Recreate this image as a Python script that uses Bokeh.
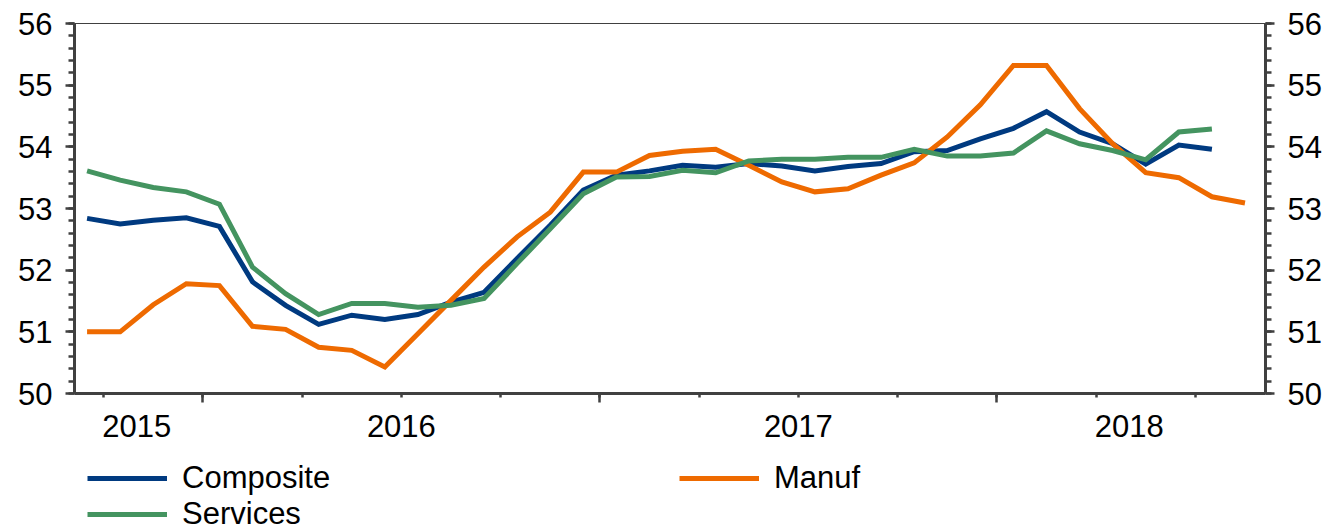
from bokeh.plotting import figure
from bokeh.layouts import column
from bokeh.models import (Range1d, LinearAxis, FixedTicker, SingleIntervalTicker,
                          Legend, LegendItem, CustomLabelingPolicy)
from bokeh.embed import file_html
from bokeh.resources import INLINE

# ---- data (monthly index, 0 = first month shown) ----
manuf = [51.0, 51.0, 51.44, 51.78, 51.75, 51.09, 51.04, 50.75, 50.70, 50.43,
         50.97, 51.51, 52.05, 52.54, 52.94, 53.59, 53.59, 53.86, 53.93, 53.96,
         53.70, 53.43, 53.27, 53.32, 53.54, 53.74, 54.16, 54.68, 55.32, 55.32,
         54.62, 54.05, 53.58, 53.50, 53.19, 53.09]
composite = [52.84, 52.75, 52.81, 52.85, 52.71, 51.81, 51.43, 51.12, 51.27, 51.20,
             51.28, 51.48, 51.64, 52.19, 52.73, 53.30, 53.54, 53.61, 53.70, 53.67,
             53.73, 53.69, 53.61, 53.68, 53.73, 53.92, 53.94, 54.13, 54.30, 54.57,
             54.24, 54.05, 53.72, 54.03, 53.96]
services = [53.61, 53.46, 53.34, 53.27, 53.07, 52.05, 51.62, 51.28, 51.46, 51.46,
            51.40, 51.43, 51.54, 52.11, 52.67, 53.24, 53.51, 53.52, 53.62, 53.58,
            53.77, 53.80, 53.80, 53.83, 53.83, 53.96, 53.85, 53.85, 53.90, 54.26,
            54.05, 53.94, 53.79, 54.24, 54.29]
months_manuf = list(range(len(manuf)))
months_comp = list(range(len(composite)))
months_serv = list(range(len(services)))

series_names = ["Composite", "Services", "Manuf"]
year_labels = ["2015", "2016", "2017", "2018"]
year_label_pos = [1.5, 9.5, 21.5, 31.5]
quarter_ticks = [0.5, 3.5, 6.5, 9.5, 12.5, 15.5, 18.5, 21.5, 24.5, 27.5, 30.5, 33.5]
year_ticks = [3.5, 15.5, 27.5]

BLUE = "#003A80"
ORANGE = "#EE6A00"
GREEN = "#449460"
AX = "#404040"
FONT = "Liberation Sans"
FS = "31px"

# ================= main chart =================
p = figure(frame_width=1191, frame_height=370,
           x_range=Range1d(-0.38, 35.62), y_range=Range1d(50, 56),
           output_backend="svg", toolbar_location=None,
           min_border_left=74, min_border_right=65,
           min_border_top=23, min_border_bottom=67)
p.background_fill_color = "white"
p.border_fill_color = "white"
p.outline_line_color = AX
p.outline_line_width = 1
p.xgrid.visible = False
p.ygrid.visible = False

p.line(months_comp, composite, line_color=BLUE, line_width=5, line_join="miter")
p.line(months_manuf, manuf, line_color=ORANGE, line_width=5, line_join="miter")
p.line(months_serv, services, line_color=GREEN, line_width=5, line_join="miter")

# ---- y axes ----
def style_y(ax):
    ax.ticker = SingleIntervalTicker(interval=1, num_minor_ticks=5)
    ax.axis_line_color = AX
    ax.axis_line_width = 3
    ax.major_tick_line_color = AX
    ax.major_tick_line_width = 2.5
    ax.minor_tick_line_color = AX
    ax.minor_tick_line_width = 2.5
    ax.major_tick_in = 0
    ax.major_tick_out = 9
    ax.minor_tick_in = 0
    ax.minor_tick_out = 6
    ax.major_label_text_font = FONT
    ax.major_label_text_font_size = FS
    ax.major_label_text_color = "black"
    ax.major_label_standoff = 13

style_y(p.yaxis[0])
ry = LinearAxis()
style_y(ry)
p.add_layout(ry, "right")

# ---- x axis: line + quarterly ticks (no labels) ----
xa = p.xaxis[0]
xa.ticker = FixedTicker(ticks=year_ticks, minor_ticks=quarter_ticks)
xa.axis_line_color = AX
xa.axis_line_width = 3
xa.major_tick_line_color = AX
xa.major_tick_line_width = 2.5
xa.minor_tick_line_color = AX
xa.minor_tick_line_width = 2.5
xa.major_tick_in = 0
xa.major_tick_out = 9
xa.minor_tick_in = 0
xa.minor_tick_out = 4
xa.major_label_text_font_size = "1px"
xa.major_label_standoff = 0
xa.major_label_policy = CustomLabelingPolicy(
    code="for (const i of Array.from(indices)) { indices.unset(i) }\nreturn indices")

# ---- x axis: year labels ----
xb = LinearAxis(ticker=FixedTicker(ticks=year_label_pos, minor_ticks=[]))
xb.major_label_overrides = {pos: lab for pos, lab in zip(year_label_pos, year_labels)}
xb.axis_line_color = None
xb.major_tick_line_color = None
xb.minor_tick_line_color = None
xb.major_tick_out = 0
xb.major_tick_in = 0
xb.minor_tick_out = 0
xb.minor_tick_in = 0
xb.major_label_text_font = FONT
xb.major_label_text_font_size = FS
xb.major_label_text_color = "black"
xb.major_label_standoff = 8
p.add_layout(xb, "below")

# ================= legend strip =================
# same series, drawn outside the strip's visible range: only the legend shows
q = figure(width=1330, height=69, x_range=Range1d(-0.38, 35.62), y_range=Range1d(0, 1),
           x_axis_type=None, y_axis_type=None,
           output_backend="svg", toolbar_location=None,
           min_border=0, min_border_left=0, min_border_right=0,
           min_border_top=0, min_border_bottom=0)
q.outline_line_color = None
q.background_fill_color = "white"
q.border_fill_color = "white"
lc = q.line(months_comp, composite, line_color=BLUE, line_width=5)
ls = q.line(months_serv, services, line_color=GREEN, line_width=5)
lm = q.line(months_manuf, manuf, line_color=ORANGE, line_width=5)

legend = Legend(items=[LegendItem(label=series_names[0], renderers=[lc]),
                       LegendItem(label=series_names[1], renderers=[ls]),
                       LegendItem(label=series_names[2], renderers=[lm])],
                orientation="vertical", nrows=2,
                location=(13, -3),
                glyph_width=80, glyph_height=36, label_height=36, label_width=497,
                label_standoff=15, padding=0, margin=0, spacing=0,
                border_line_color=None, background_fill_alpha=0,
                label_text_font=FONT, label_text_font_size=FS,
                label_text_color="black")
q.add_layout(legend, "center")

layout = column(p, q, spacing=0)
open("out.html", "w").write(file_html(layout, INLINE))
